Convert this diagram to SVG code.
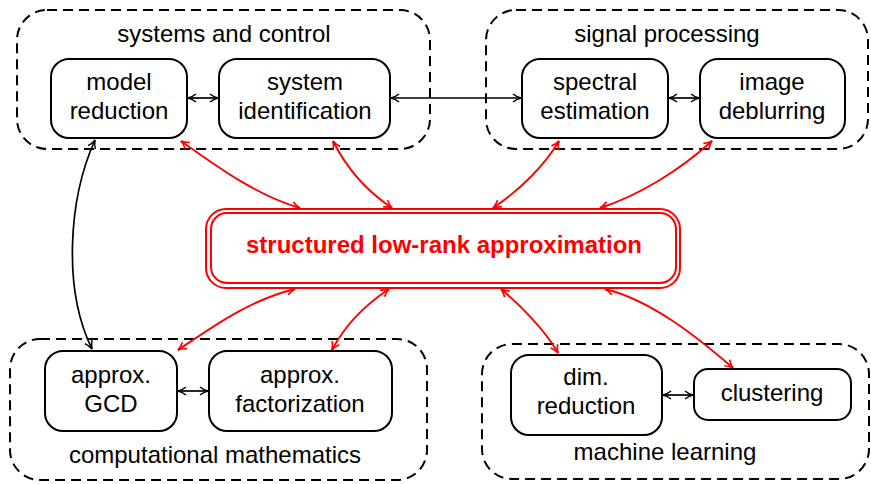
<svg xmlns="http://www.w3.org/2000/svg" width="871" height="484" viewBox="0 0 871 484">
<style>
.grp{fill:none;stroke:#000;stroke-width:2;stroke-dasharray:10,6}
.box{fill:#fff;stroke:#000;stroke-width:2}
.t{font-family:"Liberation Sans",Arial,sans-serif;font-size:24px;text-anchor:middle;fill:#000}
.bk{fill:none;stroke:#000;stroke-width:1.7;marker-start:url(#ak);marker-end:url(#ak)}
.rd{fill:none;stroke:#f00;stroke-width:1.9;marker-start:url(#ar);marker-end:url(#ar)}
</style>
<defs>
<marker id="ak" viewBox="-10 -6 12 12" refX="0" refY="0" markerWidth="12" markerHeight="12" markerUnits="userSpaceOnUse" orient="auto-start-reverse">
<path d="M-8,-4 C-5,-1.5 -2,-0.5 0,0 C-2,0.5 -5,1.5 -8,4" fill="none" stroke="#000" stroke-width="1.5"/>
</marker>
<marker id="ar" viewBox="-10 -6 12 12" refX="0" refY="0" markerWidth="12" markerHeight="12" markerUnits="userSpaceOnUse" orient="auto-start-reverse">
<path d="M-8,-4 C-5,-1.5 -2,-0.5 0,0 C-2,0.5 -5,1.5 -8,4" fill="none" stroke="#f00" stroke-width="1.7"/>
</marker>
</defs>
<rect width="871" height="484" fill="#fff"/>

<g id="group-systems">
<rect class="grp" x="17" y="10" width="413" height="139" rx="30"/>
<text class="t" x="224" y="42">systems and control</text>
</g>
<g id="group-signal">
<rect class="grp" x="486" y="10" width="382" height="139" rx="30"/>
<text class="t" x="667" y="42">signal processing</text>
</g>
<g id="group-compmath">
<rect class="grp" x="10" y="339" width="417" height="141" rx="30"/>
<text class="t" x="215" y="463">computational mathematics</text>
</g>
<g id="group-ml">
<rect class="grp" x="482" y="344" width="387" height="135" rx="30"/>
<text class="t" x="665" y="460">machine learning</text>
</g>

<g id="connectors">
<path class="bk" d="M188,98 L218,98"/>
<path class="bk" d="M391,98 L521,98"/>
<path class="bk" d="M669,98 L699,98"/>
<path class="bk" d="M178,391 L208,391"/>
<path class="bk" d="M663,395 L693,395"/>
<path class="bk" d="M95,140 C68,200 63,290 92,349"/>
<path class="rd" d="M181,141 C215,165 255,195 300,208"/>
<path class="rd" d="M333,141 C345,165 365,190 392,208"/>
<path class="rd" d="M559,141 C545,165 520,190 493,208"/>
<path class="rd" d="M712,141 C680,170 640,195 600,208"/>
<path class="rd" d="M295,289 C250,300 215,325 178,350"/>
<path class="rd" d="M389,289 C365,305 345,325 332,350"/>
<path class="rd" d="M501,289 C520,305 545,330 558,353"/>
<path class="rd" d="M605,289 C650,300 695,335 733,368"/>
</g>

<g id="node-model-reduction">
<rect class="box" x="51" y="59" width="136" height="79" rx="18"/>
<text class="t" x="119" y="90">model</text>
<text class="t" x="119" y="119">reduction</text>
</g>
<g id="node-system-identification">
<rect class="box" x="219" y="59" width="171" height="79" rx="18"/>
<text class="t" x="305" y="90">system</text>
<text class="t" x="305" y="119">identification</text>
</g>
<g id="node-spectral-estimation">
<rect class="box" x="522" y="59" width="146" height="79" rx="18"/>
<text class="t" x="595" y="90">spectral</text>
<text class="t" x="595" y="119">estimation</text>
</g>
<g id="node-image-deblurring">
<rect class="box" x="700" y="59" width="145" height="79" rx="18"/>
<text class="t" x="772" y="90">image</text>
<text class="t" x="772" y="119">deblurring</text>
</g>
<g id="node-slra">
<rect x="206" y="209" width="474" height="79" rx="20" fill="#fff" stroke="#f00" stroke-width="2"/>
<rect x="211" y="213" width="465" height="70" rx="16" fill="none" stroke="#f00" stroke-width="2"/>
<text x="444" y="253" font-family="'Liberation Sans',Arial,sans-serif" font-size="24" font-weight="bold" text-anchor="middle" fill="#f00">structured low-rank approximation</text>
</g>
<g id="node-approx-gcd">
<rect class="box" x="45" y="351" width="132" height="80" rx="18"/>
<text class="t" x="111" y="383">approx.</text>
<text class="t" x="111" y="412">GCD</text>
</g>
<g id="node-approx-factorization">
<rect class="box" x="209" y="351" width="183" height="80" rx="18"/>
<text class="t" x="300" y="383">approx.</text>
<text class="t" x="300" y="412">factorization</text>
</g>
<g id="node-dim-reduction">
<rect class="box" x="511" y="355" width="151" height="80" rx="18"/>
<text class="t" x="586" y="385">dim.</text>
<text class="t" x="586" y="414">reduction</text>
</g>
<g id="node-clustering">
<rect class="box" x="694" y="369" width="157" height="51" rx="14"/>
<text class="t" x="772" y="401">clustering</text>
</g>
</svg>
